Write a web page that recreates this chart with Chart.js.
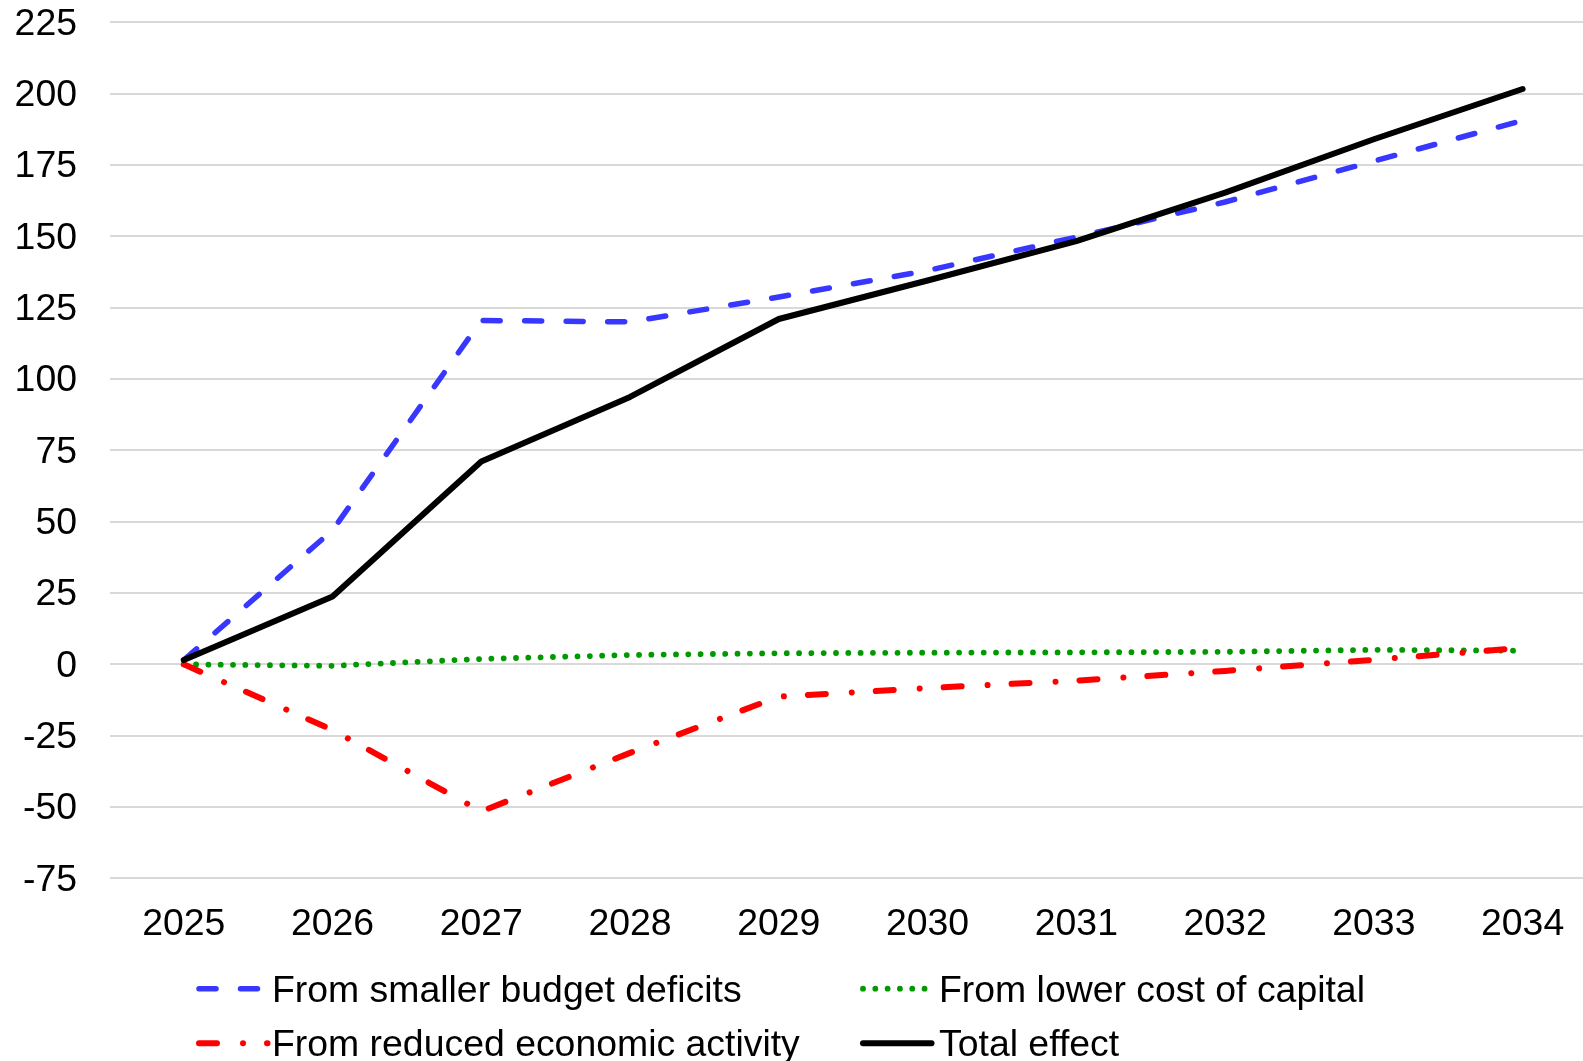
<!DOCTYPE html>
<html>
<head>
<meta charset="utf-8">
<title>Sources of the change in net interest</title>
<script src="https://cdn.jsdelivr.net/npm/chart.js@4/dist/chart.umd.min.js"></script>
<style>
  html, body { margin: 0; padding: 0; background: #ffffff; overflow: hidden; }
  canvas { display: block; }
</style>
</head>
<body>
<canvas id="chart" width="1583" height="1061"></canvas>
<script>
// Fiscal years on the horizontal axis
const years = [2025, 2026, 2027, 2028, 2029, 2030, 2031, 2032, 2033, 2034];

// Vertical axis tick values
const yTicks = [-75, -50, -25, 0, 25, 50, 75, 100, 125, 150, 175, 200, 225];

// Series values
const fromSmallerDeficits = [1.5, 47, 120.5, 120, 128.7, 138, 149.7, 162, 176.3, 190.6];
const fromLowerCostOfCapital = [0, -0.5, 1.9, 3.3, 3.9, 4.1, 4.2, 4.4, 5.1, 4.8];
const fromReducedActivity = [0, -23, -51.5, -31, -11.3, -8.3, -5.7, -2.3, 1.6, 5.8];
const totalEffect = [1.5, 23.8, 71.1, 93.7, 121, 134.5, 148.3, 165.3, 184, 201.6];

// Series labels
const seriesLabels = [
  'From smaller budget deficits',
  'From lower cost of capital',
  'From reduced economic activity',
  'Total effect'
];

const FONT_FAMILY = '"Liberation Sans", Arial, Helvetica, sans-serif';
const FONT_SIZE = 37.4;
const LINE_HEIGHT = FONT_SIZE * 1.2;
const X_LABEL_GAP = 24;

const toPoints = (vals) => vals.map((v, i) => ({ x: years[i], y: v }));

const lineBase = {
  pointRadius: 0,
  pointHoverRadius: 0,
  tension: 0,
  fill: false,
  borderCapStyle: 'round',
  borderJoinStyle: 'round'
};

// Two-column legend drawn below the axis, laid out row by row
const gridLegend = {
  id: 'gridLegend',
  afterDraw(chart) {
    const ctx = chart.ctx;
    const columns = [
      { lineStart: 199, text: 272 },
      { lineStart: 863, text: 939 }
    ];
    const sampleLength = 68.5;
    const rowLineY = [988.7, 1043.3];
    const rowBaseline = [1001.5, 1056];
    chart.data.datasets.forEach((ds, i) => {
      const col = columns[i % 2];
      const row = Math.floor(i / 2);
      ctx.save();
      ctx.beginPath();
      ctx.strokeStyle = ds.borderColor;
      ctx.lineWidth = ds.borderWidth;
      ctx.lineCap = ds.borderCapStyle || 'butt';
      ctx.setLineDash(ds.borderDash || []);
      ctx.lineDashOffset = 0;
      ctx.moveTo(col.lineStart, rowLineY[row]);
      ctx.lineTo(col.lineStart + sampleLength, rowLineY[row]);
      ctx.stroke();
      ctx.setLineDash([]);
      ctx.fillStyle = '#000000';
      ctx.font = FONT_SIZE + 'px ' + FONT_FAMILY;
      ctx.textAlign = 'left';
      ctx.textBaseline = 'alphabetic';
      ctx.fillText(ds.label, col.text, rowBaseline[row]);
      ctx.restore();
    });
  }
};

Chart.defaults.color = '#000000';
Chart.defaults.font.family = FONT_FAMILY;
Chart.defaults.font.size = FONT_SIZE;

new Chart(document.getElementById('chart'), {
  type: 'line',
  data: {
    datasets: [
      Object.assign({}, lineBase, {
        label: seriesLabels[0],
        data: toPoints(fromSmallerDeficits),
        borderColor: '#3737FF',
        borderWidth: 5.5,
        borderDash: [17, 24.5],
        order: 4
      }),
      Object.assign({}, lineBase, {
        label: seriesLabels[1],
        data: toPoints(fromLowerCostOfCapital),
        borderColor: '#009900',
        borderWidth: 5.8,
        borderDash: [0.01, 12.3],
        order: 3
      }),
      Object.assign({}, lineBase, {
        label: seriesLabels[2],
        data: toPoints(fromReducedActivity),
        borderColor: '#FF0000',
        borderWidth: 6,
        borderDash: [18, 26, 0.01, 24],
        order: 2
      }),
      Object.assign({}, lineBase, {
        label: seriesLabels[3],
        data: toPoints(totalEffect),
        borderColor: '#000000',
        borderWidth: 6,
        order: 1
      })
    ]
  },
  options: {
    responsive: false,
    animation: false,
    events: [],
    layout: { padding: { top: 22.2, right: 0, bottom: 113.7, left: 0 } },
    plugins: {
      legend: { display: false },
      tooltip: { enabled: false },
      title: { display: false }
    },
    scales: {
      x: {
        type: 'linear',
        min: years[0] - 0.496,
        max: years[years.length - 1] + 0.406,
        afterBuildTicks(scale) {
          scale.ticks = years.map(v => ({ value: v }));
        },
        afterFit(scale) {
          scale.height = X_LABEL_GAP + LINE_HEIGHT;
          scale.paddingLeft = 0;
          scale.paddingRight = 0;
        },
        grid: { display: false, drawTicks: false },
        border: { display: false },
        ticks: {
          padding: X_LABEL_GAP,
          maxRotation: 0,
          autoSkip: false,
          callback: (v) => String(v),
          font: { size: FONT_SIZE, family: FONT_FAMILY },
          color: '#000000'
        }
      },
      y: {
        type: 'linear',
        min: yTicks[0],
        max: yTicks[yTicks.length - 1],
        afterBuildTicks(scale) {
          scale.ticks = yTicks.map(v => ({ value: v }));
        },
        afterFit(scale) {
          scale.width = 110;
          scale.paddingTop = 0;
          scale.paddingBottom = 0;
        },
        grid: {
          color: '#D9D9D9',
          lineWidth: 2,
          drawTicks: false
        },
        border: { display: false },
        ticks: {
          padding: 33,
          labelOffset: 2,
          callback: (v) => String(v),
          font: { size: FONT_SIZE, family: FONT_FAMILY },
          color: '#000000'
        }
      }
    }
  },
  plugins: [gridLegend]
});
</script>
</body>
</html>
